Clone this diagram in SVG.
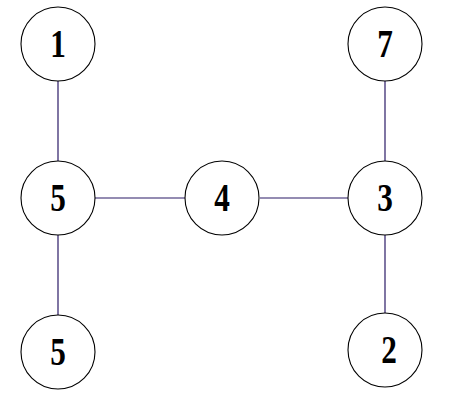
<svg xmlns="http://www.w3.org/2000/svg" width="455" height="409" viewBox="0 0 455 409">
<style>
.n{fill:#fff;stroke:#000;stroke-width:1.1}
.t{font-family:"Liberation Serif",serif;font-weight:bold;font-size:40px;text-anchor:middle;fill:#000}
.e{stroke:#2a1a66;stroke-width:1.2}
</style>
<rect width="455" height="409" fill="#fff"/>
<g id="edges">
<line class="e" x1="58" y1="81" x2="58" y2="161"/>
<line class="e" x1="58" y1="235" x2="58" y2="315"/>
<line class="e" x1="95" y1="198" x2="186" y2="198"/>
<line class="e" x1="260" y1="198" x2="348" y2="198"/>
<line class="e" x1="385" y1="81" x2="385" y2="161"/>
<line class="e" x1="385" y1="235" x2="385" y2="313"/>
</g>
<g id="n1"><circle class="n" cx="58" cy="44" r="37"/><text class="t" transform="translate(58,57) scale(0.78,1)">1</text></g>
<g id="n5a"><circle class="n" cx="58" cy="198" r="37"/><text class="t" transform="translate(58,211) scale(0.78,1)">5</text></g>
<g id="n5b"><circle class="n" cx="58" cy="352" r="37"/><text class="t" transform="translate(58,365) scale(0.78,1)">5</text></g>
<g id="n4"><circle class="n" cx="222" cy="198" r="37"/><text class="t" transform="translate(222,211) scale(0.78,1)">4</text></g>
<g id="n7"><circle class="n" cx="385" cy="44" r="37"/><text class="t" transform="translate(385,57) scale(0.78,1)">7</text></g>
<g id="n3"><circle class="n" cx="385" cy="198" r="37"/><text class="t" transform="translate(385,211) scale(0.78,1)">3</text></g>
<g id="n2"><circle class="n" cx="385" cy="350" r="37"/><text class="t" transform="translate(389,363) scale(0.78,1)">2</text></g>
</svg>
